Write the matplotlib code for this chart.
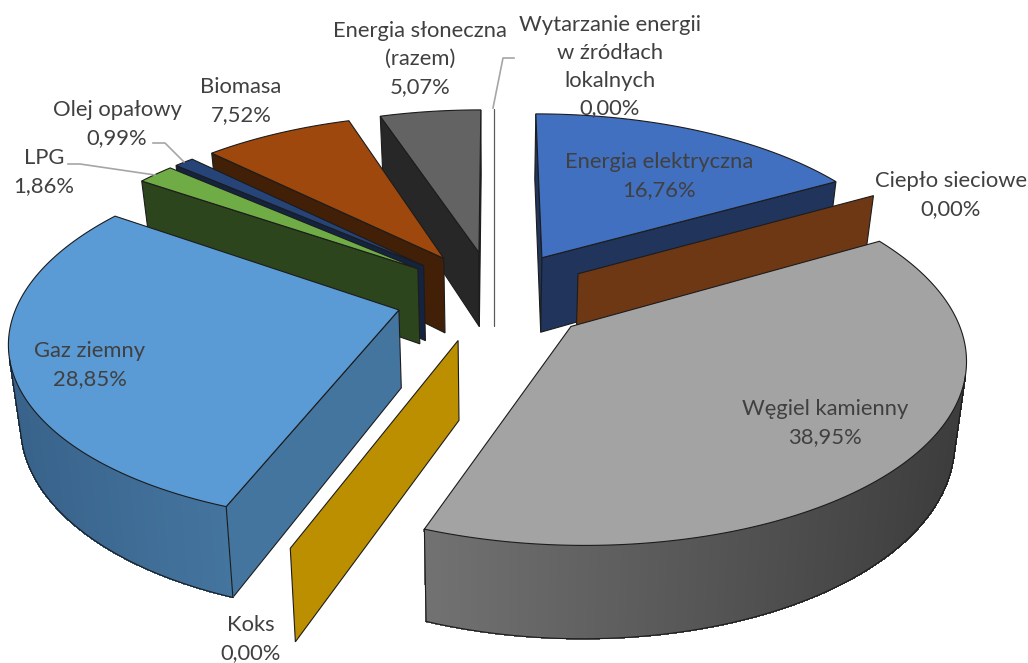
import numpy as np
import matplotlib
matplotlib.use("Agg")
import matplotlib.pyplot as plt
from matplotlib.patches import Polygon

# udzialy nosnikow energii, kolejnosc jak na wykresie (od godziny 12, zgodnie ze wskazowkami)
nazwy = ["Energia elektryczna", "Ciepło sieciowe", "Węgiel kamienny", "Koks", "Gaz ziemny",
         "LPG", "Olej opałowy", "Biomasa", "Energia słoneczna", "Wytarzanie energii"]
wartosci = [16.76, 0.00, 38.95, 0.00, 28.85, 1.86, 0.99, 7.52, 5.07, 0.00]

kolor_gora = ["#4170c0", "#6f3815", "#a3a3a3", "#bc8f00", "#5a9ad5",
              "#6fac46", "#264478", "#9e480e", "#636363", "#ffffff"]
kolor_bok = ["#20345c", "#6f3815", "#3f3f3f", "#bc8f00", "#44759f",
             "#2c451c", "#14233f", "#421f07", "#272727", "#ffffff"]
# boczna sciana zaokraglona: kolor z lewej i z prawej strony
gradient_lewy = ["#20345c", "#6f3815", "#727272", "#bc8f00", "#38628a",
                 "#2c451c", "#14233f", "#421f07", "#272727", "#ffffff"]
gradient_prawy = ["#20345c", "#6f3815", "#3c3c3c", "#bc8f00", "#44759f",
                  "#2c451c", "#14233f", "#421f07", "#272727", "#ffffff"]

kolejnosc = [8, 9, 7, 6, 5, 4, 3, 0, 1, 2]

# parametry rzutu
CX, CY = 494, 296
SKALA_X, SKALA_Y = 379, 176
PERSP = 0.15
ODSUNIECIE = 0.26
WYSOKOSC = 77
ZBIEZNOSC = 0.975
KRAWEDZ = "#1c1c1c"


def rzut(x, y, dol=False):
    w = 1 + PERSP * y
    sx = CX + SKALA_X * x / w
    sy = CY - SKALA_Y * y / w
    if dol:
        sx = CX + (sx - CX) * ZBIEZNOSC
        sy = sy + WYSOKOSC / w
    return sx, sy


def pole(punkty):
    p = np.array(punkty)
    return 0.5 * np.sum(p[:, 0] * np.roll(p[:, 1], -1) - np.roll(p[:, 0], -1) * p[:, 1])


def mieszaj(k1, k2, t):
    a = np.array(matplotlib.colors.to_rgb(k1))
    b = np.array(matplotlib.colors.to_rgb(k2))
    return a + (b - a) * t


fig = plt.figure(figsize=(10.28, 6.63), dpi=100)
ax = fig.add_axes([0, 0, 1, 1])
ax.set_xlim(0, 1028)
ax.set_ylim(663, 0)
ax.axis("off")

granice = np.cumsum([0] + wartosci) * 3.6

for i in kolejnosc:
    start = np.radians(granice[i])
    koniec = np.radians(granice[i + 1])
    srodek = (start + koniec) / 2
    ox = ODSUNIECIE * np.sin(srodek)
    oy = ODSUNIECIE * np.cos(srodek)
    katy = np.linspace(start, koniec, max(2, int(2 * np.degrees(koniec - start)) + 2))
    xs = ox + np.sin(katy)
    ys = oy + np.cos(katy)

    gora = [rzut(ox, oy)] + [rzut(a, b) for a, b in zip(xs, ys)]
    dol = [rzut(ox, oy, True)] + [rzut(a, b, True) for a, b in zip(xs, ys)]

    zerowy = wartosci[i] == 0
    # sciany promieniowe
    sciana_a = [gora[0], gora[1], dol[1], dol[0]]
    sciana_b = [gora[-1], gora[0], dol[0], dol[-1]]
    if zerowy:
        # biala sciana "Wytarzanie energii" widac tylko jako szara linie
        krawedz = "#595959" if kolor_bok[i] == "#ffffff" else KRAWEDZ
        ax.add_patch(Polygon(sciana_a, closed=True, facecolor=kolor_bok[i], edgecolor=krawedz, lw=0.8))
        continue
    for sciana in [sciana_a, sciana_b]:
        if pole(sciana) < 0:
            ax.add_patch(Polygon(sciana, closed=True, facecolor=kolor_bok[i], edgecolor=KRAWEDZ, lw=0.8))

    # sciana zewnetrzna, paski z gradientem
    x_min = min(p[0] for p in gora[1:])
    x_max = max(p[0] for p in gora[1:])
    widoczne = []
    for k in range(1, len(gora) - 1):
        pasek = [gora[k], gora[k + 1], dol[k + 1], dol[k]]
        if pole(pasek) < 0:
            t = (gora[k][0] - x_min) / max(x_max - x_min, 1)
            kol = mieszaj(gradient_lewy[i], gradient_prawy[i], t)
            ax.add_patch(Polygon(pasek, closed=True, facecolor=kol, edgecolor=kol, lw=0.6, antialiased=False))
            widoczne.append(k)
    if widoczne:
        k0, k1 = widoczne[0], widoczne[-1] + 1
        kontur = dol[k0:k1 + 1]
        ax.plot([p[0] for p in kontur], [p[1] for p in kontur], color=KRAWEDZ, lw=0.8)
        for k in (k0, k1):
            ax.plot([gora[k][0], dol[k][0]], [gora[k][1], dol[k][1]], color=KRAWEDZ, lw=0.8)

    ax.add_patch(Polygon(gora, closed=True, facecolor=kolor_gora[i], edgecolor=KRAWEDZ, lw=0.8))

# linie odniesienia
SZARY = "#a6a6a6"
ax.plot([514, 503, 493], [58, 58, 108], color=SZARY, lw=1.2)
ax.plot([153, 165, 184], [143, 143, 162], color=SZARY, lw=1.2)
ax.plot([68, 80, 155], [164, 164, 175], color=SZARY, lw=1.2)

# etykiety
etykiety = [
    (659, 176, "Energia elektryczna\n16,76%"),
    (951, 195, "Ciepło sieciowe\n0,00%"),
    (825, 423, "Węgiel kamienny\n38,95%"),
    (251, 639, "Koks\n0,00%"),
    (90, 365, "Gaz ziemny\n28,85%"),
    (44, 172, "LPG\n1,86%"),
    (117, 124, "Olej opałowy\n0,99%"),
    (241, 101, "Biomasa\n7,52%"),
    (420, 59, "Energia słoneczna\n(razem)\n5,07%"),
    (610, 67, "Wytarzanie energii\nw źródłach\nlokalnych\n0,00%"),
]
for x, y, tekst in etykiety:
    ax.text(x, y, tekst, ha="center", va="center", fontsize=15.8, family="Lato",
            color="#404040", linespacing=1.48)

fig.savefig("out.png", dpi=100)
